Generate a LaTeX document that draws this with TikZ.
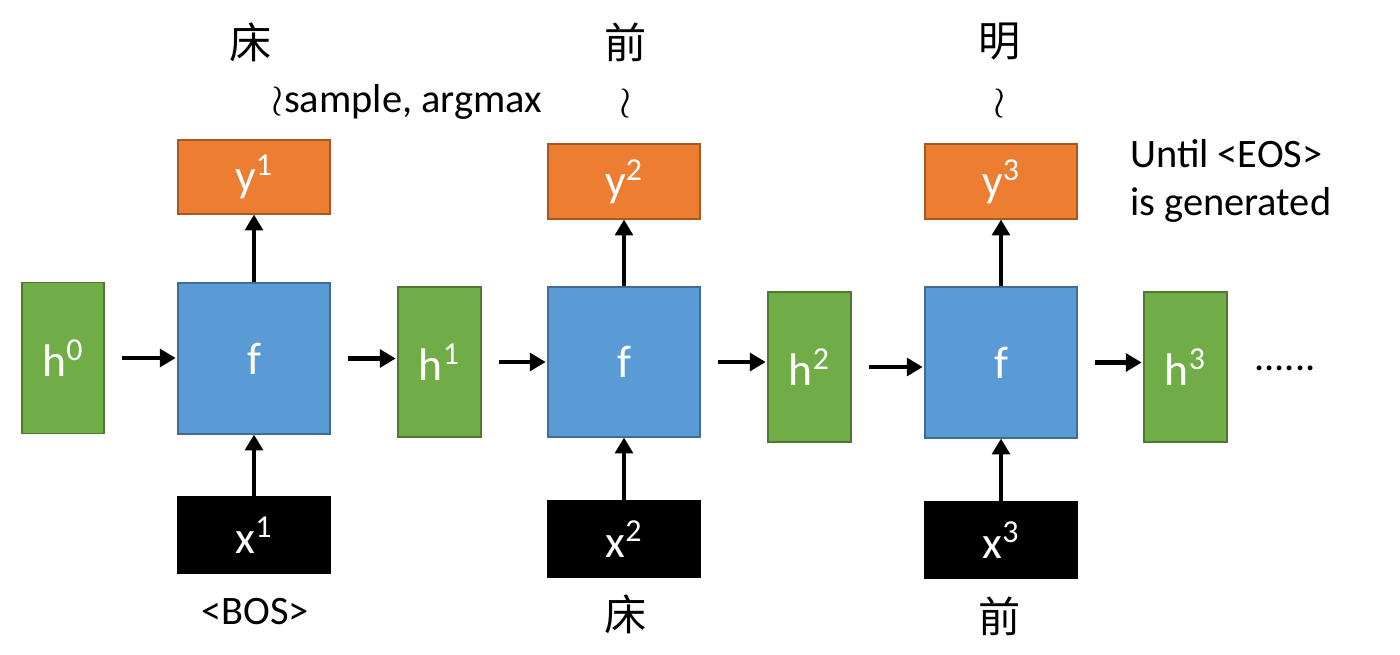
\documentclass[tikz,border=0pt]{standalone}
\usepackage{fontspec}
\setmainfont{Carlito}
\newfontfamily\cjk{Noto Sans CJK SC}
\usetikzlibrary{arrows.meta}
\definecolor{og}{HTML}{ED7D31}
\definecolor{bl}{HTML}{5B9BD5}
\definecolor{gr}{HTML}{70AD47}
\tikzset{
 bx/.style={draw=#1!70!black, line width=0.6pt, inner sep=0pt, text=white, font=\fontsize{26}{30}\selectfont},
 arr/.style={line width=2.8pt, -{Triangle[length=9pt,width=10pt]}},
 lab/.style={font=\fontsize{23}{27}\selectfont},
 cj/.style={font=\cjk\fontsize{24}{28}\selectfont},
}
\begin{document}
\begin{tikzpicture}[x=0.02cm,y=-0.02cm]
\useasboundingbox (0,0) rectangle (1400,654);
\newcommand\bxat[5]{\node[bx=#4, fill=#4, minimum width={(#3)*0.02cm}, minimum height={(#5)*0.02cm}] (#1) at #2 {};}
% h boxes
\node[bx=gr,fill=gr,minimum width=1.64cm,minimum height=3.02cm] (h0) at (63,358) {h$^{\mathrm{0}}$};
\node[bx=gr,fill=gr,minimum width=1.66cm,minimum height=3.0cm] (h1) at (439.5,362) {h$^{\mathrm{1}}$};
\node[bx=gr,fill=gr,minimum width=1.66cm,minimum height=3.0cm] (h2) at (809.5,367) {h$^{\mathrm{2}}$};
\node[bx=gr,fill=gr,minimum width=1.66cm,minimum height=3.0cm] (h3) at (1185.5,367) {h$^{\mathrm{3}}$};
% f boxes
\node[bx=bl,fill=bl,minimum width=3.04cm,minimum height=3.02cm] (f1) at (254,358.5) {f};
\node[bx=bl,fill=bl,minimum width=3.04cm,minimum height=3.0cm] (f2) at (624,362) {f};
\node[bx=bl,fill=bl,minimum width=3.04cm,minimum height=3.02cm] (f3) at (1001,362.5) {f};
% y boxes
\node[bx=og,fill=og,minimum width=3.04cm,minimum height=1.48cm] (y1) at (254,177) {y$^{\mathrm{1}}$};
\node[bx=og,fill=og,minimum width=3.04cm,minimum height=1.5cm] (y2) at (624,181.5) {y$^{\mathrm{2}}$};
\node[bx=og,fill=og,minimum width=3.04cm,minimum height=1.5cm] (y3) at (1001,181.5) {y$^{\mathrm{3}}$};
% x boxes
\node[bx=black,fill=black,minimum width=3.04cm,minimum height=1.52cm] (x1) at (254,535) {x$^{\mathrm{1}}$};
\node[bx=black,fill=black,minimum width=3.04cm,minimum height=1.52cm] (x2) at (624,539) {x$^{\mathrm{2}}$};
\node[bx=black,fill=black,minimum width=3.04cm,minimum height=1.52cm] (x3) at (1001,540) {x$^{\mathrm{3}}$};
% arrows
\foreach \a/\b in {h0/f1,f1/h1,h1/f2,f2/h2,h2/f3,f3/h3}
  \draw[arr] ([xshift=10pt]\a.east) -- ([xshift=-1pt]\b.west|-\a.east);
\foreach \i in {1,2,3}{
  \draw[arr] (x\i.north) -- (f\i.south);
  \draw[arr] (f\i.north) -- (y\i.south);
}
\node[lab] (dots) at (1285,368) {......};
% top labels
\node[cj] (c1) at (251,42) {床};
\node[cj] (c2) at (626,42) {前};
\node[cj] (c3) at (1000,42) {明};
\node[lab] (s1) at (407,102) {$\wr$sample, argmax};
\node[lab] (s2) at (626,104) {$\wr$};
\node[lab] (s3) at (1000,104) {$\wr$};
\node[lab,align=left,anchor=west] (until) at (1124,181) {Until <EOS>\\is generated};
% bottom labels
\node[lab] (b1) at (255,612) {<BOS>};
\node[cj] (b2) at (626,614) {床};
\node[cj] (b3) at (1000,616) {前};
\end{tikzpicture}
\end{document}
